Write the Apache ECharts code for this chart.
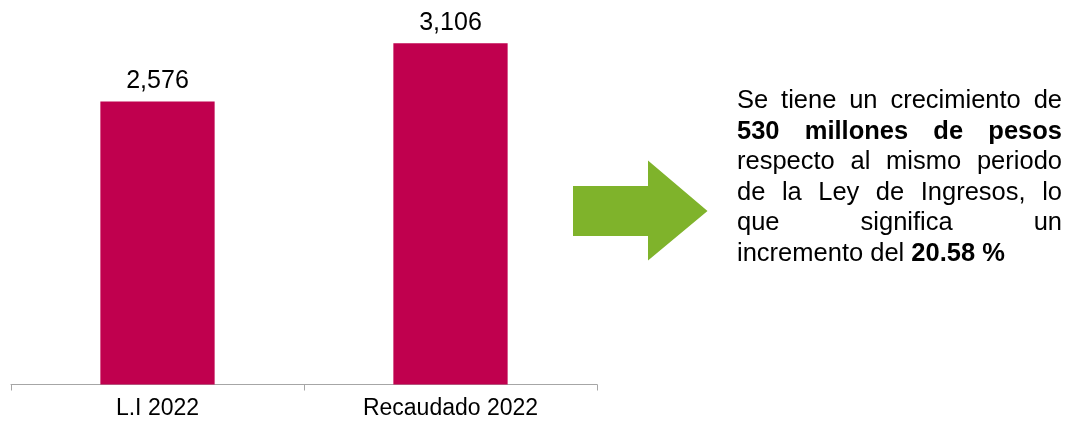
<!DOCTYPE html>
<html><head><meta charset="utf-8">
<script src="https://cdn.jsdelivr.net/npm/echarts@6/dist/echarts.min.js"></script>
<style>html,body{margin:0;padding:0;background:#fff}#c{width:1067px;height:425px}</style>
</head><body><div id="c"></div>
<script>
const categories = ['L.I 2022', 'Recaudado 2022'];
const values = [2576, 3106];
// paragraph lines: arrays of [text, bold]
const noteLines = [
  [['Se', 0], ['tiene', 0], ['un', 0], ['crecimiento', 0], ['de', 0]],
  [['530', 1], ['millones', 1], ['de', 1], ['pesos', 1]],
  [['respecto', 0], ['al', 0], ['mismo', 0], ['periodo', 0]],
  [['de', 0], ['la', 0], ['Ley', 0], ['de', 0], ['Ingresos,', 0], ['lo', 0]],
  [['que', 0], ['significa', 0], ['un', 0]]
];
const lastLine = [['incremento del ', 0], ['20.58 %', 1]];

const FONT = "'Liberation Sans', Arial, sans-serif";
const FS = 25.5;
const X0 = 737, X1 = 1062, Y0 = 101, LH = 30.6;
const cv = document.createElement('canvas').getContext('2d');
function w(t, b) { cv.font = (b ? 'bold ' : '') + FS + 'px ' + FONT; return cv.measureText(t).width; }

const graphics = [];
noteLines.forEach((words, i) => {
  const total = words.reduce((s, [t, b]) => s + w(t, b), 0);
  const gap = (X1 - X0 - total) / (words.length - 1);
  let x = X0;
  words.forEach(([t, b]) => {
    graphics.push({type: 'text', x: x, y: Y0 + i * LH,
      style: {text: t, font: (b ? 'bold ' : '') + FS + 'px ' + FONT, fill: '#000', verticalAlign: 'middle'}});
    x += w(t, b) + gap;
  });
});
{
  let x = X0;
  lastLine.forEach(([t, b]) => {
    graphics.push({type: 'text', x: x, y: Y0 + 5 * LH,
      style: {text: t, font: (b ? 'bold ' : '') + FS + 'px ' + FONT, fill: '#000', verticalAlign: 'middle'}});
    x += w(t, b);
  });
}
graphics.push({type: 'polygon', shape: {points: [[573,186],[648,186],[648,160.5],[707.5,211],[648,260.5],[648,236],[573,236]]},
  style: {fill: '#7FB32B'}});

const chart = echarts.init(document.getElementById('c'), null, {renderer: 'canvas'});
chart.setOption({
  animation: false,
  backgroundColor: '#fff',
  grid: {left: 11, right: 470, top: 0, bottom: 40.5},
  xAxis: {type: 'category', data: categories,
    axisLine: {lineStyle: {color: '#A6A6A6', width: 1}},
    axisTick: {show: true, alignWithLabel: false, length: 6, lineStyle: {color: '#A6A6A6'}},
    axisLabel: {color: '#000', fontSize: 23, fontFamily: FONT, margin: 13}},
  yAxis: {type: 'value', min: 0, max: 3500, show: false, splitLine: {show: false}},
  series: [{type: 'bar', data: values, barWidth: '39%',
    itemStyle: {color: '#C0004E'},
    label: {show: true, position: 'top', distance: 8, color: '#000', fontSize: 25, fontFamily: FONT,
      formatter: p => p.value.toLocaleString('en-US')}}],
  graphic: graphics
});
</script></body></html>
